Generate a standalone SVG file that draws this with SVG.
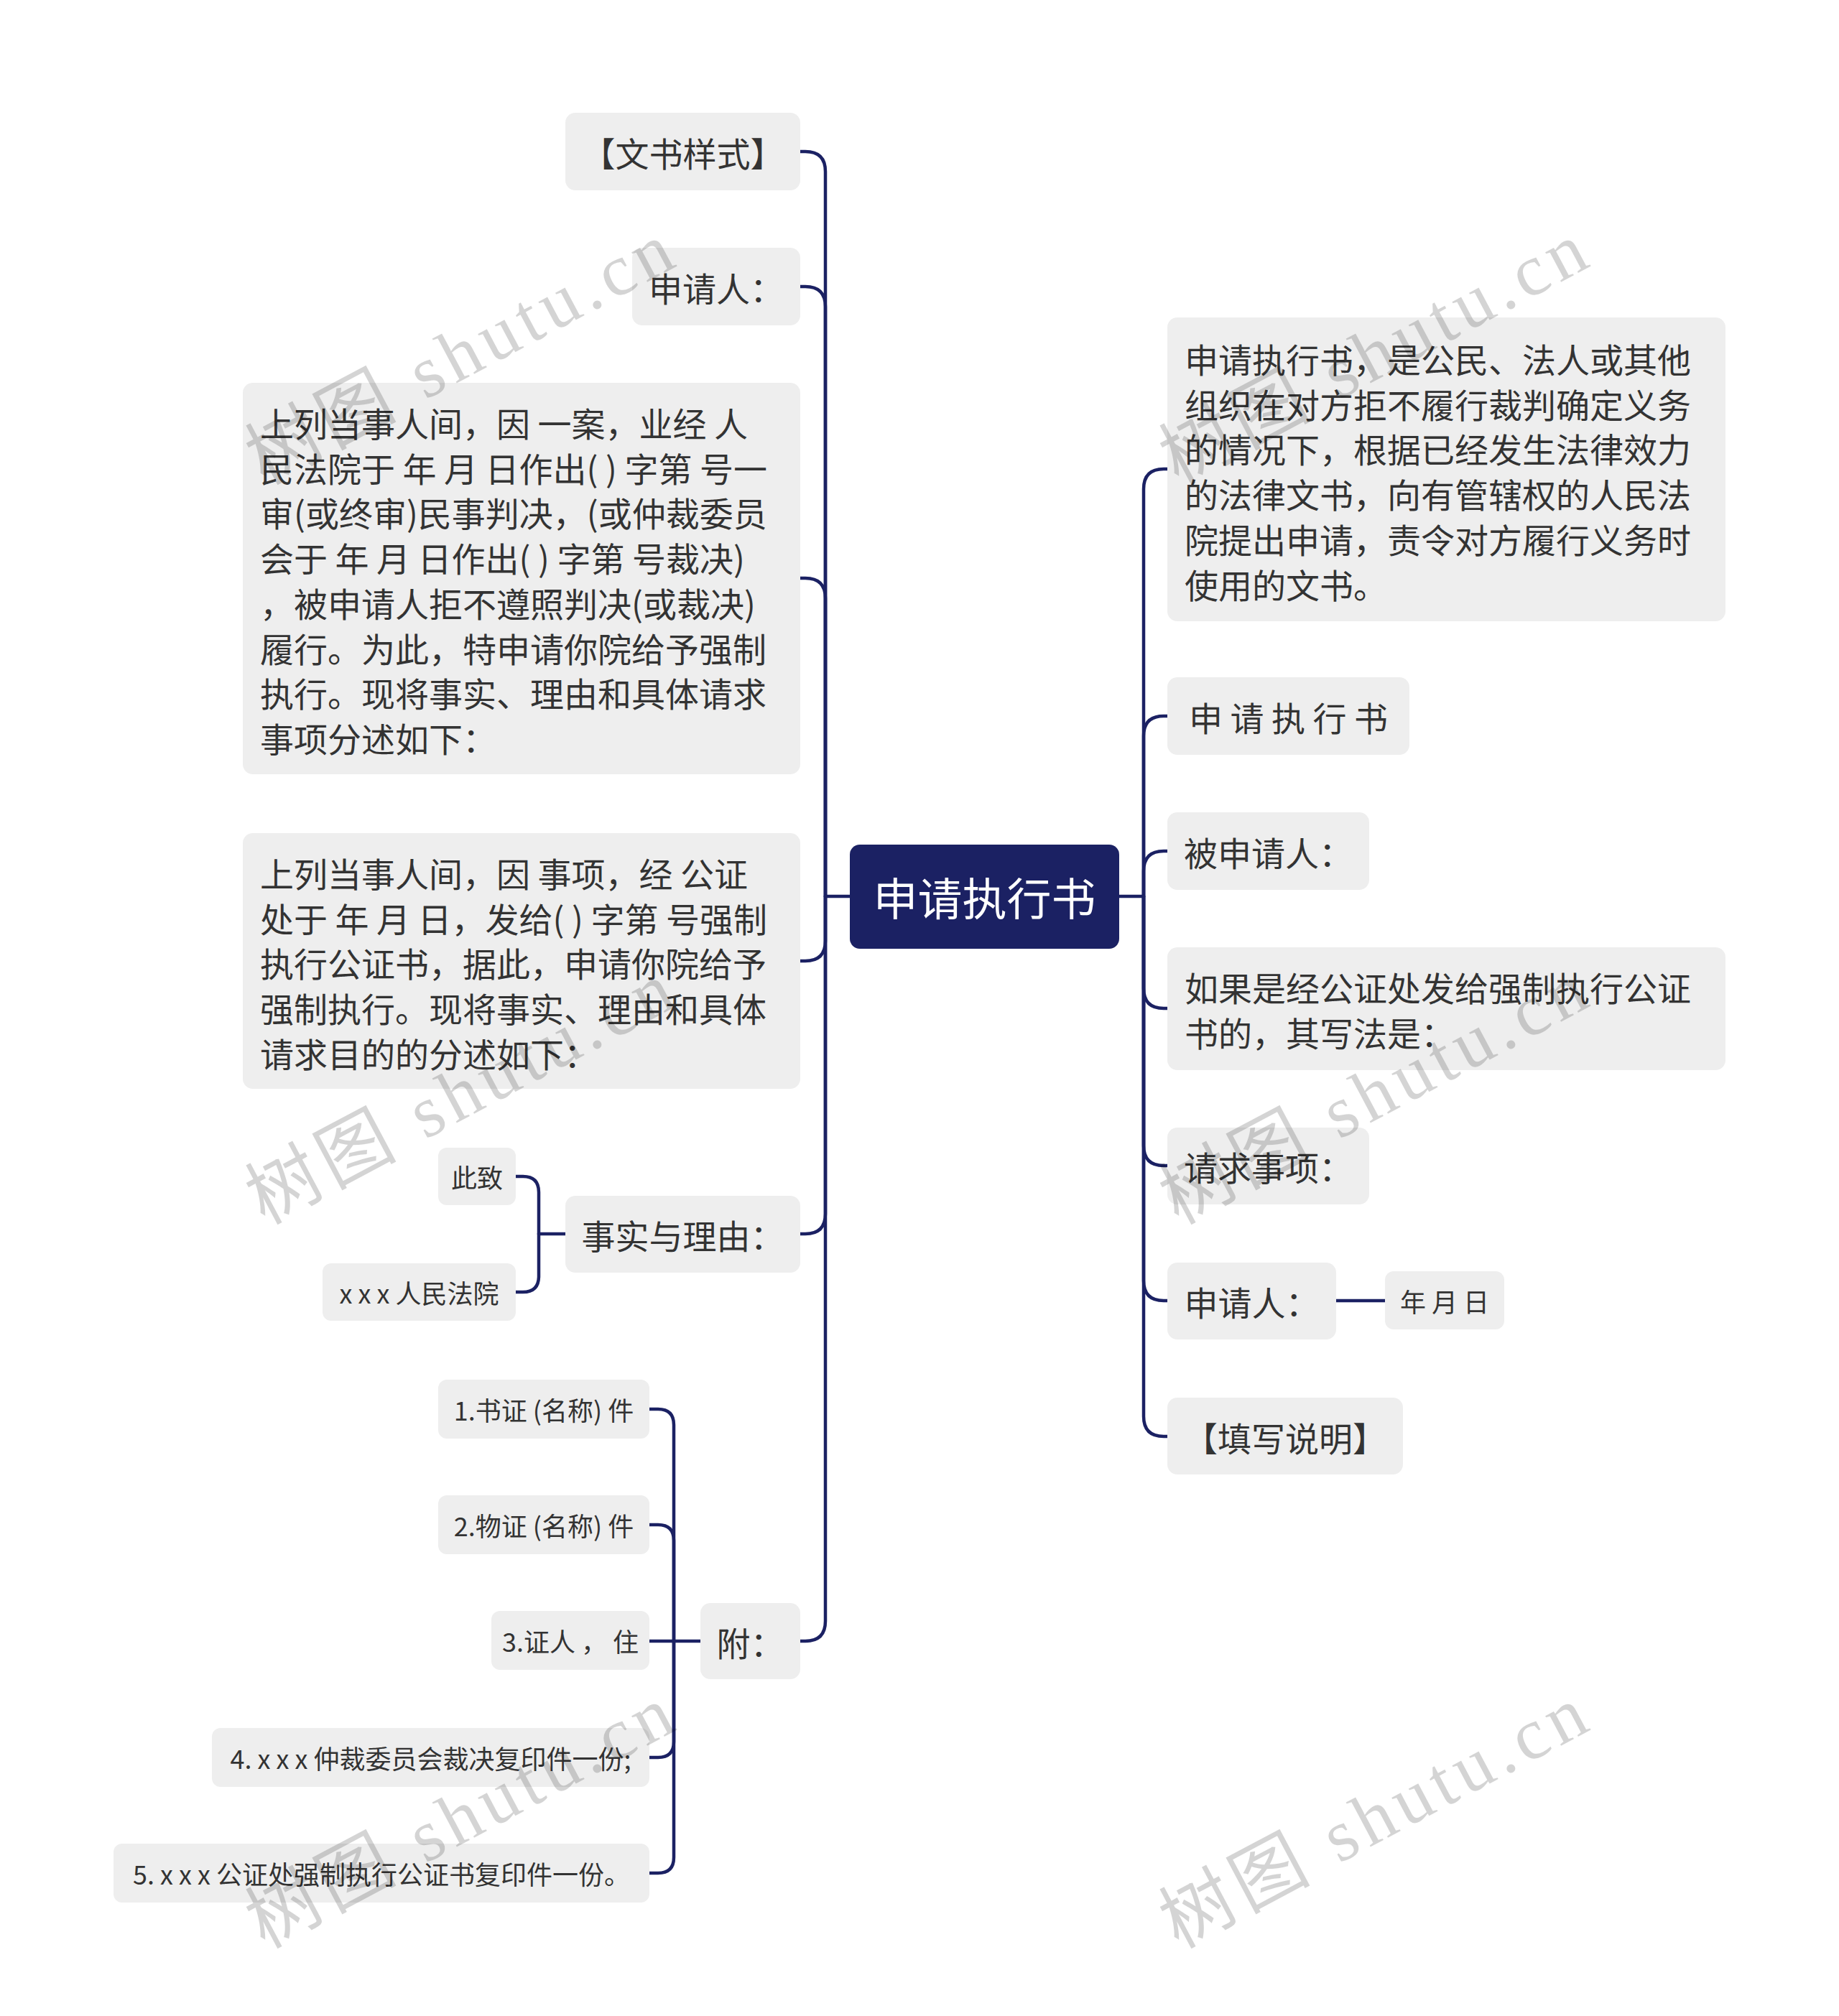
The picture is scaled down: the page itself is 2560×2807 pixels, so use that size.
<svg xmlns="http://www.w3.org/2000/svg" width="2560" height="2807" viewBox="0 0 2560 2807">
<style>
.bg{fill:#ffffff}
.box{fill:#eeeeee}
.root{fill:#1b2163}
.t{font-family:"Noto Sans CJK SC","Noto Sans",sans-serif;font-size:47px;fill:#333333;dominant-baseline:central}
.s{font-family:"Noto Sans CJK SC","Noto Sans",sans-serif;font-size:36px;fill:#333333;dominant-baseline:central}
.rt{font-family:"Noto Sans CJK SC","Noto Sans",sans-serif;font-size:62px;fill:#ffffff;dominant-baseline:central}
.c{fill:none;stroke:#1b2163;stroke-width:4.5;stroke-linecap:round}
.wm{font-family:"Liberation Serif","Noto Sans CJK SC",serif;font-size:102px;fill:#000000;fill-opacity:0.17;letter-spacing:8px}
</style>
<rect class="bg" x="0" y="0" width="2560" height="2807"/>

<g id="connectors">
<path class="c" d="M1183 1248 H1149"/>
<path class="c" d="M1149 1248 V239 Q1149 211 1121 211 H1114"/>
<path class="c" d="M1149 1248 V427 Q1149 399 1121 399 H1114"/>
<path class="c" d="M1149 1248 V833 Q1149 805 1121 805 H1114"/>
<path class="c" d="M1149 1248 V1310 Q1149 1338 1121 1338 H1114"/>
<path class="c" d="M1149 1248 V1690 Q1149 1718 1121 1718 H1114"/>
<path class="c" d="M1149 1248 V2257 Q1149 2285 1121 2285 H1114"/>
<path class="c" d="M1558 1248 H1592"/>
<path class="c" d="M1592 1248 V681 Q1592 653 1620 653 H1625"/>
<path class="c" d="M1592 1248 V1025 Q1592 997 1620 997 H1625"/>
<path class="c" d="M1592 1248 V1213 Q1592 1185 1620 1185 H1625"/>
<path class="c" d="M1592 1248 V1376 Q1592 1404 1620 1404 H1625"/>
<path class="c" d="M1592 1248 V1595 Q1592 1623 1620 1623 H1625"/>
<path class="c" d="M1592 1248 V1783 Q1592 1811 1620 1811 H1625"/>
<path class="c" d="M1592 1248 V1972 Q1592 2000 1620 2000 H1625"/>
<path class="c" d="M1860 1811 H1928"/>
<path class="c" d="M787 1718 H750"/>
<path class="c" d="M750 1718 V1660 Q750 1638 728 1638 H718"/>
<path class="c" d="M750 1718 V1777 Q750 1799 728 1799 H718"/>
<path class="c" d="M975 2285 H938"/>
<path class="c" d="M938 2285 V1984 Q938 1962 916 1962 H904"/>
<path class="c" d="M938 2285 V2145 Q938 2123 916 2123 H904"/>
<path class="c" d="M938 2285 H904"/>
<path class="c" d="M938 2285 V2425 Q938 2447 916 2447 H904"/>
<path class="c" d="M938 2285 V2586 Q938 2608 916 2608 H904"/>
</g>

<g id="root">
<rect class="root" x="1183" y="1176" width="375" height="145" rx="14"/>
<text class="rt" x="1370.5" y="1248" text-anchor="middle">申请执行书</text>
</g>

<g id="n-wenshu">
<rect class="box" x="787" y="157" width="327" height="108" rx="14"/>
<text class="t" x="950.5" y="211" text-anchor="middle">【文书样式】</text>
</g>
<g id="n-shenqingren-l">
<rect class="box" x="880" y="345" width="234" height="108" rx="14"/>
<text class="t" x="997" y="399" text-anchor="middle">申请人：</text>
</g>
<g id="n-text1">
<rect class="box" x="338" y="533" width="776" height="545" rx="14"/>
<text class="t" x="362" xml:space="preserve"><tspan x="362" y="587">上列当事人间，因 一案，业经 人</tspan><tspan x="362" y="649.7">民法院于 年 月 日作出( ) 字第 号一</tspan><tspan x="362" y="712.4">审(或终审)民事判决，(或仲裁委员</tspan><tspan x="362" y="775.1">会于 年 月 日作出( ) 字第 号裁决)</tspan><tspan x="362" y="837.8">，被申请人拒不遵照判决(或裁决)</tspan><tspan x="362" y="900.5">履行。为此，特申请你院给予强制</tspan><tspan x="362" y="963.2">执行。现将事实、理由和具体请求</tspan><tspan x="362" y="1025.9">事项分述如下：</tspan></text>
</g>
<g id="n-text2">
<rect class="box" x="338" y="1160" width="776" height="356" rx="14"/>
<text class="t" x="362" xml:space="preserve"><tspan x="362" y="1214">上列当事人间，因 事项，经 公证</tspan><tspan x="362" y="1276.7">处于 年 月 日，发给( ) 字第 号强制</tspan><tspan x="362" y="1339.4">执行公证书，据此，申请你院给予</tspan><tspan x="362" y="1402.1">强制执行。现将事实、理由和具体</tspan><tspan x="362" y="1464.8">请求目的的分述如下：</tspan></text>
</g>
<g id="n-shishi">
<rect class="box" x="787" y="1665" width="327" height="107" rx="14"/>
<text class="t" x="950.5" y="1718" text-anchor="middle">事实与理由：</text>
</g>
<g id="n-cizhi">
<rect class="box" x="610" y="1598" width="108" height="80" rx="12"/>
<text class="s" x="664" y="1638" text-anchor="middle">此致</text>
</g>
<g id="n-fayuan">
<rect class="box" x="449" y="1759" width="269" height="80" rx="12"/>
<text class="s" x="583.5" y="1799" text-anchor="middle" xml:space="preserve">x x x 人民法院</text>
</g>
<g id="n-fu">
<rect class="box" x="975" y="2232" width="139" height="106" rx="14"/>
<text class="t" x="1044.5" y="2285" text-anchor="middle">附：</text>
</g>
<g id="n-fu1">
<rect class="box" x="610" y="1921" width="294" height="82" rx="12"/>
<text class="s" x="757" y="1962" text-anchor="middle" xml:space="preserve">1.书证 (名称) 件</text>
</g>
<g id="n-fu2">
<rect class="box" x="610" y="2082" width="294" height="82" rx="12"/>
<text class="s" x="757" y="2123" text-anchor="middle" xml:space="preserve">2.物证 (名称) 件</text>
</g>
<g id="n-fu3">
<rect class="box" x="684" y="2243" width="220" height="82" rx="12"/>
<text class="s" x="794" y="2284" text-anchor="middle" xml:space="preserve">3.证人 ， 住</text>
</g>
<g id="n-fu4">
<rect class="box" x="295" y="2406" width="609" height="82" rx="12"/>
<text class="s" x="599.5" y="2447" text-anchor="middle" xml:space="preserve">4. x x x 仲裁委员会裁决复印件一份;</text>
</g>
<g id="n-fu5">
<rect class="box" x="158" y="2567" width="746" height="82" rx="12"/>
<text class="s" x="531" y="2608" text-anchor="middle" xml:space="preserve">5. x x x 公证处强制执行公证书复印件一份。</text>
</g>

<g id="n-desc">
<rect class="box" x="1625" y="442" width="777" height="423" rx="14"/>
<text class="t" x="1649"><tspan x="1649" y="498">申请执行书，是公民、法人或其他</tspan><tspan x="1649" y="560.7">组织在对方拒不履行裁判确定义务</tspan><tspan x="1649" y="623.4">的情况下，根据已经发生法律效力</tspan><tspan x="1649" y="686.1">的法律文书，向有管辖权的人民法</tspan><tspan x="1649" y="748.8">院提出申请，责令对方履行义务时</tspan><tspan x="1649" y="811.5">使用的文书。</tspan></text>
</g>
<g id="n-title">
<rect class="box" x="1625" y="943" width="337" height="108" rx="14"/>
<text class="t" x="1793.5" y="997" text-anchor="middle" xml:space="preserve">申 请 执 行 书</text>
</g>
<g id="n-beishenqingren">
<rect class="box" x="1625" y="1131" width="281" height="108" rx="14"/>
<text class="t" x="1765.5" y="1185" text-anchor="middle">被申请人：</text>
</g>
<g id="n-gongzheng">
<rect class="box" x="1625" y="1319" width="777" height="171" rx="14"/>
<text class="t" x="1649"><tspan x="1649" y="1373">如果是经公证处发给强制执行公证</tspan><tspan x="1649" y="1435.7">书的，其写法是：</tspan></text>
</g>
<g id="n-qingqiu">
<rect class="box" x="1625" y="1570" width="281" height="107" rx="14"/>
<text class="t" x="1765.5" y="1623" text-anchor="middle">请求事项：</text>
</g>
<g id="n-shenqingren-r">
<rect class="box" x="1625" y="1758" width="235" height="107" rx="14"/>
<text class="t" x="1742.5" y="1811" text-anchor="middle">申请人：</text>
</g>
<g id="n-date">
<rect class="box" x="1928" y="1770" width="166" height="81" rx="12"/>
<text class="s" x="2011" y="1811" text-anchor="middle" xml:space="preserve">年 月 日</text>
</g>
<g id="n-tianxie">
<rect class="box" x="1625" y="1946" width="328" height="107" rx="14"/>
<text class="t" x="1789" y="2000" text-anchor="middle">【填写说明】</text>
</g>

<g id="watermarks">
<text class="wm" transform="translate(368,676) rotate(-28)">树图 shutu.cn</text>
<text class="wm" transform="translate(1640,676) rotate(-28)">树图 shutu.cn</text>
<text class="wm" transform="translate(368,1706) rotate(-28)">树图 shutu.cn</text>
<text class="wm" transform="translate(1640,1706) rotate(-28)">树图 shutu.cn</text>
<text class="wm" transform="translate(368,2714) rotate(-28)">树图 shutu.cn</text>
<text class="wm" transform="translate(1640,2714) rotate(-28)">树图 shutu.cn</text>
</g>
</svg>
